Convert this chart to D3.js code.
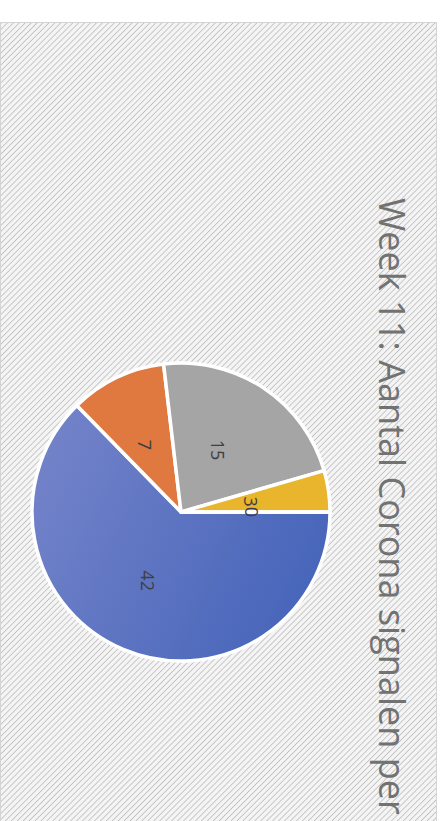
<!DOCTYPE html>
<html>
<head>
<meta charset="utf-8">
<script src="https://cdn.jsdelivr.net/npm/d3@7"></script>
<style>
  html, body { margin: 0; padding: 0; background: #fff; }
  svg { display: block; }
</style>
</head>
<body>
<div id="container"></div>
<script>
// data (legend not visible in the photo, so names are placeholders)
const categories = ["Categorie 1", "Categorie 2", "Categorie 3", "Categorie 4", "Categorie 5"];
const values = [42, 7, 15, 3, 0];
const colors = ["#5b6fc1", "#e0793f", "#a5a5a5", "#e8b52d", "#5b9bd5"];
const title = "Week 11: Aantal Corona signalen per";

const W = 445, H = 821;
const svg = d3.select("#container").append("svg")
    .attr("width", W)
    .attr("height", H);

const defs = svg.append("defs");

// diagonal hatch like the chart background
const hatch = defs.append("pattern")
    .attr("id", "hatch")
    .attr("patternUnits", "userSpaceOnUse")
    .attr("width", 4.2)
    .attr("height", 4.2)
    .attr("patternTransform", "rotate(45)");
hatch.append("rect").attr("width", 4.2).attr("height", 4.2).attr("fill", "#f4f4f4");
hatch.append("line")
    .attr("x1", 0).attr("y1", 0).attr("x2", 0).attr("y2", 4.2)
    .attr("stroke", "#bdbdbd")
    .attr("stroke-width", 1.6);

// slight light fall-off on the blue slice (photo)
const grad = defs.append("linearGradient")
    .attr("id", "blueGrad")
    .attr("x1", "0%").attr("y1", "30%").attr("x2", "100%").attr("y2", "70%");
grad.append("stop").attr("offset", "0%").attr("stop-color", "#7282c9");
grad.append("stop").attr("offset", "100%").attr("stop-color", "#4564b9");

// chart area
svg.append("rect")
    .attr("x", 0.5).attr("y", 22.5)
    .attr("width", 436).attr("height", H)
    .attr("fill", "url(#hatch)")
    .attr("stroke", "#d4d4d4")
    .attr("stroke-width", 1);

// pie (whole chart is turned a quarter clockwise, so it starts at 3 o'clock)
const cx = 181, cy = 512, r = 149;
const pie = d3.pie()
    .sort(null)
    .startAngle(Math.PI / 2)
    .endAngle(Math.PI / 2 + 2 * Math.PI)
    .value(d => d);
const arc = d3.arc().innerRadius(0).outerRadius(r);
const arcs = pie(values);

const g = svg.append("g").attr("transform", `translate(${cx},${cy})`);

g.append("circle")
    .attr("r", r + 1.5)
    .attr("fill", "#fff");

g.selectAll("path")
    .data(arcs)
    .enter()
    .append("path")
    .attr("d", arc)
    .attr("fill", (d, i) => i === 0 ? "url(#blueGrad)" : colors[i])
    .attr("stroke", "#fff")
    .attr("stroke-width", 3.5)
    .attr("stroke-linejoin", "round");

// data labels, rotated with the chart
g.selectAll("text.lbl")
    .data(arcs)
    .enter()
    .append("text")
    .attr("class", "lbl")
    .attr("transform", d => {
        const [x, y] = arc.centroid(d);
        return `translate(${x - 4},${y}) rotate(90)`;
    })
    .attr("text-anchor", "middle")
    .attr("dominant-baseline", "central")
    .style("font-family", "'Open Sans', 'Noto Sans', sans-serif")
    .style("font-size", "18px")
    .attr("fill", "#3f3f3f")
    .text(d => d.data);

// title, running top to bottom
const t = svg.append("text")
    .attr("transform", "translate(379,198) rotate(90)")
    .style("font-family", "'Open Sans', 'Noto Sans', sans-serif")
    .style("font-size", "38px")
    .attr("fill", "#727272")
    .text(title);

// fit the title to the length seen in the photo
const len = t.node().getComputedTextLength();
t.style("font-size", (38 * 617 / len) + "px");
</script>
</body>
</html>
